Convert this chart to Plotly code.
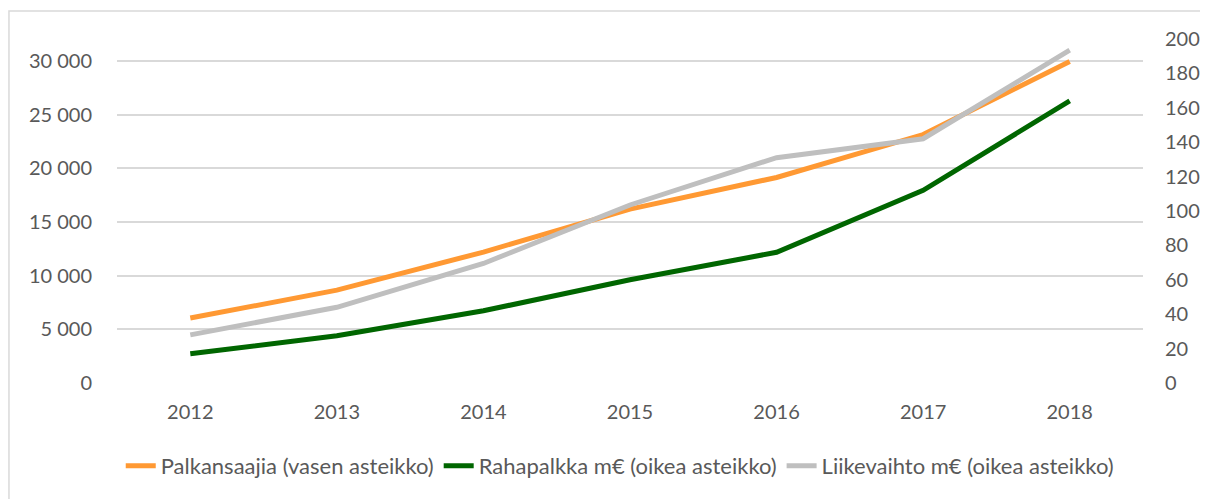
import plotly.graph_objects as go

# values
years = ["2012", "2013", "2014", "2015", "2016", "2017", "2018"]
palkansaajia = [6050, 8650, 12200, 16200, 19150, 23150, 29950]   # left axis
rahapalkka = [17, 27.5, 42, 60, 76, 112, 164]                   # right axis, m€
liikevaihto = [28, 44, 69.5, 103.5, 131, 142, 193.5]            # right axis, m€

label_color = "#595959"
grid_color = "#D9D9D9"
font_family = "Lato, 'Open Sans', sans-serif"

fig = go.Figure()

fig.add_trace(go.Scatter(
    x=years, y=palkansaajia, name="Palkansaajia (vasen asteikko)",
    mode="lines", line=dict(color="#FF9933", width=5),
))
fig.add_trace(go.Scatter(
    x=years, y=rahapalkka, name="Rahapalkka m€ (oikea asteikko)",
    mode="lines", line=dict(color="#006600", width=5), yaxis="y2",
))
fig.add_trace(go.Scatter(
    x=years, y=liikevaihto, name="Liikevaihto m€ (oikea asteikko)",
    mode="lines", line=dict(color="#BFBFBF", width=5), yaxis="y2",
))

# the page puts the figure 8px in from the top-left corner, margins allow for that
fig.update_layout(
    width=1208,
    height=499,
    margin=dict(l=109, r=73, t=31, b=124),
    paper_bgcolor="white",
    plot_bgcolor="white",
    separators=", ",
    font=dict(family=font_family, size=20, color=label_color),
    showlegend=True,
    legend=dict(
        orientation="h",
        x=0.49, xanchor="center",
        y=-0.241, yanchor="middle",
        font=dict(size=22, color=label_color),
        itemwidth=30,
        tracegroupgap=0,
    ),
    xaxis=dict(
        type="category",
        range=[-0.5, 6.5],
        showgrid=False,
        zeroline=False,
        showline=False,
        ticks="",
        ticklabelstandoff=15,
    ),
    yaxis=dict(
        range=[0, 32050],
        tick0=0,
        dtick=5000,
        tickformat=",d",
        showgrid=True,
        gridcolor=grid_color,
        gridwidth=1.5,
        zeroline=False,
        showline=False,
        ticklabelstandoff=24,
    ),
    yaxis2=dict(
        range=[0, 200],
        tick0=0,
        dtick=20,
        overlaying="y",
        side="right",
        showgrid=False,
        zeroline=False,
        showline=False,
        ticklabelstandoff=21,
    ),
    shapes=[
        dict(
            type="rect", xref="paper", yref="paper",
            x0=-0.1053, x1=1.2, y0=-0.6, y1=1.0814,
            line=dict(color=grid_color, width=1.5),
            fillcolor="rgba(0,0,0,0)",
            layer="below",
        )
    ],
)

fig.write_html("out.html")
